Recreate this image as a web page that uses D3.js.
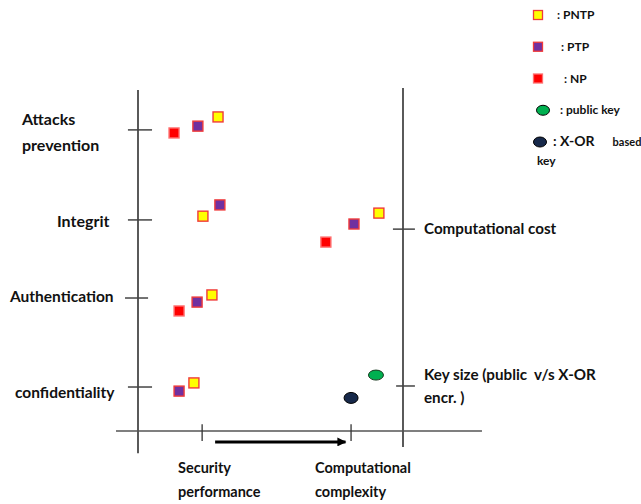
<!DOCTYPE html>
<html>
<head>
<meta charset="utf-8">
<script src="https://cdn.jsdelivr.net/npm/d3@7"></script>
<style>
  body { margin: 0; background: #fff; }
  svg text { font-family: Lato, "Open Sans", sans-serif; fill: #111; font-weight: bold; white-space: pre; }
</style>
</head>
<body>
<div id="chart"></div>
<script>
// chart values (axis space: left axis x=0, right axis x=100, bottom axis y=0)
const leftCategories = ["Attacks prevention", "Integrit", "Authentication", "confidentiality"];
const leftTickValues = [88.3, 61.9, 39.0, 12.9];
const rightCategories = ["Computational cost", "Key size (public  v/s X-OR encr. )"];
const rightTickValues = [59.2, 13.2];
const bottomLabels = ["Security performance", "Computational complexity"];
const bottomTickValues = [24.2, 80.4];

const npX = [13.6, 15.5, 70.9];
const npY = [87.4, 35.2, 55.4];
const ptpX = [22.6, 30.9, 22.3, 15.5, 81.5];
const ptpY = [89.4, 66.3, 37.8, 11.7, 60.7];
const pntpX = [30.2, 24.5, 27.9, 21.1, 90.9];
const pntpY = [92.1, 63.0, 39.9, 14.1, 63.9];
const publicKeyX = [89.8];
const publicKeyY = [16.4];
const xorKeyX = [80.4];
const xorKeyY = [9.7];

const legendNames = [": PNTP", ": PTP", ": NP", ": public key", ": X-OR    based"];

const width = 641, height = 504;
const svg = d3.select("#chart").append("svg")
    .attr("width", width)
    .attr("height", height);

const x = d3.scaleLinear().domain([0, 100]).range([138, 403]);
const y = d3.scaleLinear().domain([0, 100]).range([431, 90]);

// Axes
svg.append("line")
    .attr("x1", x(0)).attr("x2", x(0))
    .attr("y1", y(100)).attr("y2", y(-6.5))
    .attr("stroke", "#000").attr("stroke-width", 1.3);
svg.append("line")
    .attr("x1", x(100)).attr("x2", x(100))
    .attr("y1", y(100.6)).attr("y2", y(-4.7))
    .attr("stroke", "#000").attr("stroke-width", 1.3);
svg.append("line")
    .attr("x1", x(-8.3)).attr("x2", x(129.8))
    .attr("y1", y(0)).attr("y2", y(0))
    .attr("stroke", "#555").attr("stroke-width", 1.5);

// Ticks
svg.selectAll(".ltick").data(leftTickValues).enter().append("line")
    .attr("x1", (d, i) => x(i === 2 ? -4.9 : -3.8)).attr("x2", (d, i) => x(i === 2 ? 3.8 : 5.3))
    .attr("y1", d => y(d)).attr("y2", d => y(d))
    .attr("stroke", "#444").attr("stroke-width", 1.5);
svg.selectAll(".rtick").data(rightTickValues).enter().append("line")
    .attr("x1", (d, i) => x(i === 0 ? 96.2 : 97.4)).attr("x2", x(104.5))
    .attr("y1", d => y(d)).attr("y2", d => y(d))
    .attr("stroke", "#444").attr("stroke-width", 1.5);
svg.selectAll(".btick").data(bottomTickValues).enter().append("line")
    .attr("x1", d => x(d)).attr("x2", d => x(d))
    .attr("y1", y(2)).attr("y2", y(-2.9))
    .attr("stroke", "#333").attr("stroke-width", 1.3);

// Arrow
svg.append("defs").append("marker")
    .attr("id", "arrow")
    .attr("viewBox", "0 0 10 10")
    .attr("refX", 9).attr("refY", 5)
    .attr("markerWidth", 3.5).attr("markerHeight", 3)
    .attr("orient", "auto")
    .append("path").attr("d", "M0,0 L10,5 L0,10 z").attr("fill", "#000");
svg.append("line")
    .attr("x1", x(29.1)).attr("x2", x(78.3))
    .attr("y1", y(-3.2)).attr("y2", y(-3.2))
    .attr("stroke", "#000").attr("stroke-width", 3)
    .attr("marker-end", "url(#arrow)");

// Left labels
const leftLabelPos = [[22, 125, 16], [57, 227, 16], [10, 302, 15.5], [15, 398, 15.5]];
leftCategories.forEach((c, i) => {
    const t = svg.append("text")
        .attr("x", leftLabelPos[i][0])
        .attr("y", leftLabelPos[i][1])
        .style("font-size", leftLabelPos[i][2] + "px");
    if (i === 0) {
        t.append("tspan").attr("x", 22).text("Attacks");
        t.append("tspan").attr("x", 22).attr("dy", 26).text("prevention");
    } else {
        t.text(c);
    }
});

// Right labels
svg.append("text").attr("x", 424).attr("y", 234)
    .style("font-size", "15.2px")
    .text(rightCategories[0]);
const ks = svg.append("text").attr("x", 424).attr("y", 380)
    .style("font-size", "15.2px");
ks.append("tspan").attr("x", 424).text("Key size (public  v/s X-OR");
ks.append("tspan").attr("x", 424).attr("dy", 23).text("encr. )");

// Bottom labels
bottomLabels.forEach((lab, i) => {
    const words = lab.split(" ");
    const tx = i === 0 ? 178 : 315;
    const t = svg.append("text").attr("x", tx).attr("y", 473)
        .style("font-size", "14.5px");
    t.append("tspan").attr("x", tx).text(words[0]);
    t.append("tspan").attr("x", tx).attr("dy", 24).text(words[1]);
});

// Markers
const sq = 10;
function squares(xs, ys, fill, stroke) {
    svg.append("g").selectAll("rect").data(d3.zip(xs, ys)).enter().append("rect")
        .attr("x", d => x(d[0]) - sq / 2)
        .attr("y", d => y(d[1]) - sq / 2)
        .attr("width", sq).attr("height", sq)
        .attr("fill", fill).attr("stroke", stroke).attr("stroke-width", 1.4);
}
squares(npX, npY, "#ff0000", "#ff7070");
squares(ptpX, ptpY, "#7030a0", "#f03a3a");
squares(pntpX, pntpY, "#ffff00", "#f03a3a");

svg.append("g").selectAll("ellipse").data(d3.zip(publicKeyX, publicKeyY)).enter().append("ellipse")
    .attr("cx", d => x(d[0])).attr("cy", d => y(d[1]))
    .attr("rx", 7.5).attr("ry", 5)
    .attr("fill", "#00b050").attr("stroke", "#1a3a20").attr("stroke-width", 1);
svg.append("g").selectAll("ellipse").data(d3.zip(xorKeyX, xorKeyY)).enter().append("ellipse")
    .attr("cx", d => x(d[0])).attr("cy", d => y(d[1]))
    .attr("rx", 7).attr("ry", 5.5)
    .attr("fill", "#17294a").attr("stroke", "#000").attr("stroke-width", 1);

// Legend
const legendY = d3.scalePoint().domain(legendNames).range([15, 142]);
const legendTextX = [557, 561, 564, 560, 553];
const legend = svg.append("g");
legendNames.forEach((name, i) => {
    const cy = legendY(name);
    if (i < 3) {
        const fills = ["#ffff00", "#7030a0", "#ff0000"];
        const strokes = ["#f03a3a", "#f03a3a", "#ff7070"];
        legend.append("rect")
            .attr("x", 538 - 4.5).attr("y", cy - 4.5)
            .attr("width", 9).attr("height", 9)
            .attr("fill", fills[i]).attr("stroke", strokes[i]).attr("stroke-width", 1.3);
    } else {
        legend.append("ellipse")
            .attr("cx", i === 3 ? 543 : 540).attr("cy", cy)
            .attr("rx", 6.5).attr("ry", 5)
            .attr("fill", i === 3 ? "#00b050" : "#17294a")
            .attr("stroke", "#000").attr("stroke-width", 1);
    }
    const t = legend.append("text")
        .attr("x", legendTextX[i]).attr("y", cy + 4)
        .style("font-size", i === 4 ? "14px" : "12px");
    if (i === 4) {
        t.append("tspan").text(": X-OR");
        t.append("tspan").attr("dx", 18).style("font-size", "11px").text("based");
    } else {
        t.text(name);
    }
});
legend.append("text").attr("x", 537).attr("y", 165)
    .style("font-size", "12px").text("key");
</script>
</body>
</html>
